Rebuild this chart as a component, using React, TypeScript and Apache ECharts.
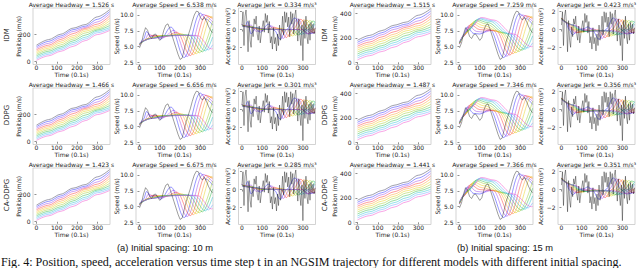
import React, { useEffect, useRef } from "react";
import * as echarts from "echarts";

// ---------------- data ----------------
const timeTicks = [0, 100, 200, 300];
const posTicksA = [0, 200];
const posTicksB = [0, 200, 400];
const speedTicks = [2.5, 5, 7.5, 10];
const accTicks = [-2, 0, 2];

const models = ["IDM", "DDPG", "CA-DDPG"];
const headwayA = ["1.526", "1.466", "1.423"];
const avgSpeedA = ["6.538", "6.656", "6.675"];
const jerkA = ["0.334", "0.301", "0.285"];
const headwayB = ["1.515", "1.487", "1.441"];
const avgSpeedB = ["7.259", "7.346", "7.366"];
const jerkB = ["0.423", "0.356", "0.351"];

// leader (NGSIM) speed, every 10 time steps from 0 to 360
const leaderSpeed = [4.8, 5.6, 7.0, 8.0, 7.6, 6.6, 6.3, 6.9, 7.0, 6.5, 6.0, 6.4, 7.6, 8.4, 8.6, 7.8, 6.8, 5.8, 4.8, 3.8, 3.0, 3.2, 4.5, 5.8, 6.8, 7.8, 9.0, 10.0, 10.6, 10.5, 9.6, 9.2, 9.6, 9.0, 8.2, 7.6, 7.2];
// leader acceleration, every 5 time steps from 0 to 360
const leaderAcc = [0.5, 2.0, -1.8, 1.5, 2.2, 0.5, -2.5, 1.0, -1.2, -2.0, 0.3, -0.8, 1.2, 0.6, 1.5, -0.5, -1.2, 0.4, -1.5, -0.6, 0.3, 1.0, -0.3, 1.8, 0.8, 1.6, -0.4, 0.9, -1.5, -0.8, -2.2, 0.2, -1.6, -0.9, -2.4, -0.5, -1.8, 0.5, -1.2, -0.3, 1.5, -0.6, 2.0, 0.8, 1.9, 0.3, 1.4, -0.8, 2.0, 0.6, 1.8, -0.5, 1.6, 2.2, 0.4, -1.3, 1.2, -0.6, -1.8, 0.5, -3.5, 1.0, -1.0, 1.5, -0.8, -1.6, 0.6, -1.2, 0.8, -0.4, 0.6, -0.5, 0.2];

const posTimes = [0, 60, 120, 180, 240, 300, 360];
// row 0 = leader, rows 1..10 = followers
const positionsA = [
  [120, 160.4, 200.1, 243.7, 269.8, 325.9, 377.9],
  [109, 147.6, 187.3, 232.5, 258.2, 307.9, 363.8],
  [98, 133.5, 175.2, 219.3, 249, 289.5, 348.5],
  [87, 120.1, 162.2, 204.1, 241.5, 273.1, 331.8],
  [76, 109, 149.4, 189.1, 232.7, 258.8, 314.9],
  [65, 98, 136.6, 176.3, 221.5, 247.2, 296.9],
  [54, 87, 122.5, 164.2, 208.3, 238, 278.5],
  [43, 76, 109.1, 151.2, 193.1, 230.5, 262.1],
  [32, 65, 98, 138.4, 178.1, 221.7, 247.8],
  [21, 54, 87, 125.6, 165.3, 210.5, 236.2],
  [10, 43, 76, 111.5, 153.2, 197.3, 227],
];
const positionsB = [
  [180, 220.4, 260.1, 303.7, 329.8, 385.9, 437.9],
  [164, 202.9, 242.6, 287.8, 313.5, 363.2, 419.1],
  [148, 184.1, 225.8, 269.9, 299.6, 340.1, 399.1],
  [132, 166, 208.1, 250, 287.4, 319, 377.7],
  [116, 150.2, 190.6, 230.3, 273.9, 300, 356.1],
  [100, 134.2, 173.1, 212.8, 258, 283.7, 333.4],
  [84, 118.2, 154.3, 196, 240.1, 269.8, 310.3],
  [68, 102.2, 136.2, 178.3, 220.2, 257.6, 289.2],
  [52, 86.2, 120.4, 160.8, 200.5, 244.1, 270.2],
  [36, 70.2, 104.4, 143.3, 183, 228.2, 253.9],
  [20, 54.2, 88.4, 124.5, 166.2, 210.3, 240],
];

// follower speeds, [time step, m/s] read at turning points
const speedFollowA = [
  [[0, 5.2], [20, 6.2], [35, 7.4], [55, 6.6], [80, 6.8], [105, 6.2], [155, 8.1], [220, 3.3], [299, 10.3], [330, 9.3], [360, 8.4]],
  [[0, 5.3], [25, 6.0], [45, 7.0], [70, 6.6], [115, 6.4], [170, 7.6], [235, 3.45], [313, 10.1], [360, 8.9]],
  [[0, 5.3], [30, 6.0], [60, 6.8], [125, 6.6], [185, 7.3], [250, 3.6], [327, 9.95], [360, 9.4]],
  [[0, 5.4], [40, 6.2], [80, 6.7], [140, 6.7], [200, 7.1], [265, 3.75], [341, 9.8], [360, 9.6]],
  [[0, 5.4], [45, 6.3], [100, 6.7], [160, 6.8], [212, 7.0], [280, 3.9], [355, 9.7], [360, 9.7]],
  [[0, 5.4], [50, 6.3], [110, 6.7], [170, 6.8], [226, 6.9], [295, 4.05], [360, 9.0]],
  [[0, 5.5], [55, 6.3], [120, 6.7], [180, 6.8], [241, 6.85], [310, 4.2], [360, 7.8]],
  [[0, 5.5], [60, 6.3], [130, 6.7], [190, 6.8], [256, 6.8], [325, 4.35], [360, 6.5]],
  [[0, 5.5], [60, 6.3], [140, 6.7], [200, 6.8], [271, 6.8], [340, 4.5], [360, 5.3]],
  [[0, 5.6], [60, 6.3], [150, 6.7], [210, 6.8], [286, 6.75], [355, 4.65], [360, 4.7]],
];
const speedFollowB = [
  [[0, 5.4], [15, 6.5], [38, 8.1], [70, 7.1], [100, 7.0], [150, 7.7], [218, 3.3], [295, 10.2], [330, 9.4], [360, 8.5]],
  [[0, 5.5], [20, 6.6], [46, 8.3], [85, 7.4], [120, 7.3], [165, 7.6], [233, 3.5], [310, 10.0], [360, 9.0]],
  [[0, 5.5], [25, 6.8], [54, 8.5], [100, 7.7], [180, 7.5], [248, 3.7], [325, 9.9], [360, 9.4]],
  [[0, 5.5], [30, 7.0], [62, 8.7], [110, 8.0], [190, 7.4], [263, 3.9], [340, 9.8], [360, 9.6]],
  [[0, 5.6], [35, 7.2], [70, 8.9], [120, 8.3], [200, 7.3], [278, 4.05], [355, 9.7], [360, 9.7]],
  [[0, 5.6], [40, 7.4], [78, 9.1], [130, 8.6], [210, 7.2], [293, 4.25], [360, 9.0]],
  [[0, 5.6], [45, 7.6], [86, 9.25], [140, 8.8], [220, 7.2], [308, 4.45], [360, 7.9]],
  [[0, 5.7], [50, 7.8], [94, 9.4], [150, 9.0], [235, 7.1], [323, 4.6], [360, 6.7]],
  [[0, 5.7], [55, 8.0], [102, 9.5], [160, 9.1], [250, 7.0], [338, 4.8], [360, 5.6]],
  [[0, 5.8], [60, 8.2], [110, 9.6], [170, 9.2], [265, 7.0], [355, 5.0], [360, 5.05]],
];

// follower accelerations, [time step, m/s²]
const accFollowA = [
  [[0, 0.6], [15, 0.3], [28, 0.9], [45, -0.5], [65, 0.1], [90, -0.3], [130, 0.6], [160, -0.1], [188, -1.1], [220, 0], [260, 1.3], [299, 0], [325, -0.5], [360, -0.3]],
  [[0, 0.5], [25, 0.4], [45, 0.5], [70, -0.2], [100, -0.1], [145, 0.4], [172, 0], [203, -1.0], [235, 0], [275, 1.2], [313, 0], [340, -0.4], [360, -0.3]],
  [[0, 0.5], [35, 0.35], [70, 0.1], [120, 0], [160, 0.25], [190, 0], [218, -0.9], [250, 0], [290, 1.15], [327, 0], [350, -0.3], [360, -0.3]],
  [[0, 0.5], [40, 0.3], [80, 0.05], [140, 0], [175, 0.15], [205, 0], [233, -0.8], [265, 0], [305, 1.1], [341, 0], [360, -0.2]],
  [[0, 0.45], [45, 0.3], [90, 0.05], [160, 0], [190, 0.1], [220, 0], [248, -0.72], [280, 0], [320, 1.05], [355, 0], [360, -0.05]],
  [[0, 0.45], [50, 0.25], [100, 0.03], [180, 0], [235, 0], [263, -0.65], [295, 0], [335, 1.0], [360, 0.5]],
  [[0, 0.45], [55, 0.25], [110, 0.03], [190, 0], [250, 0], [278, -0.6], [310, 0], [350, 0.95], [360, 0.85]],
  [[0, 0.4], [60, 0.25], [120, 0.02], [200, 0], [265, 0], [293, -0.55], [325, 0], [360, 0.85]],
  [[0, 0.4], [60, 0.2], [130, 0.02], [210, 0], [280, 0], [308, -0.5], [340, 0], [360, 0.6]],
  [[0, 0.4], [60, 0.2], [140, 0.02], [220, 0], [295, 0], [323, -0.45], [355, 0], [360, 0.15]],
];
const accFollowB = [
  [[0, 1.3], [20, 0.9], [38, 0], [55, -0.6], [80, -0.1], [110, 0.1], [130, 0.3], [150, 0], [185, -1.1], [218, 0], [255, 1.3], [295, 0], [320, -0.5], [360, -0.3]],
  [[0, 1.3], [25, 0.8], [46, 0], [65, -0.4], [100, -0.15], [125, 0], [145, 0.15], [165, 0], [200, -1.0], [233, 0], [270, 1.2], [310, 0], [335, -0.4], [360, -0.3]],
  [[0, 1.3], [30, 0.7], [54, 0], [75, -0.35], [120, -0.1], [180, -0.05], [215, -0.9], [248, 0], [285, 1.15], [325, 0], [350, -0.3], [360, -0.3]],
  [[0, 1.25], [35, 0.7], [62, 0], [85, -0.3], [130, -0.1], [190, -0.1], [230, -0.8], [263, 0], [300, 1.1], [340, 0], [360, -0.2]],
  [[0, 1.25], [40, 0.65], [70, 0], [95, -0.3], [140, -0.12], [200, -0.12], [245, -0.72], [278, 0], [315, 1.05], [355, 0], [360, -0.05]],
  [[0, 1.2], [45, 0.6], [78, 0], [105, -0.25], [150, -0.12], [210, -0.12], [260, -0.65], [293, 0], [330, 1.0], [360, 0.5]],
  [[0, 1.2], [50, 0.55], [86, 0], [115, -0.22], [160, -0.15], [220, -0.12], [275, -0.6], [308, 0], [345, 0.95], [360, 0.85]],
  [[0, 1.15], [55, 0.5], [94, 0], [120, -0.2], [170, -0.15], [235, -0.12], [290, -0.55], [323, 0], [360, 0.85]],
  [[0, 1.1], [60, 0.5], [102, 0], [130, -0.2], [180, -0.15], [250, -0.15], [305, -0.5], [338, 0], [360, 0.6]],
  [[0, 1.1], [65, 0.45], [110, 0], [140, -0.2], [190, -0.15], [265, -0.15], [320, -0.45], [355, 0], [360, 0.15]],
];

// ---------------- styling / layout ----------------
const followerColors = [
  "rgba(40,40,255,0.7)",
  "rgba(150,50,230,0.65)",
  "rgba(255,40,40,0.65)",
  "rgba(255,150,30,0.65)",
  "rgba(230,205,0,0.65)",
  "rgba(150,200,30,0.65)",
  "rgba(30,180,60,0.65)",
  "rgba(20,190,200,0.65)",
  "rgba(90,160,255,0.65)",
  "rgba(240,60,200,0.65)",
];
const leaderColor = "rgba(20,20,20,0.7)";
const colLeft = [
  [33, 136, 238.5],
  [354, 456, 558],
];
const yNameX = [
  [18.3, 116.7, 227.5],
  [334, 437.3, 540],
];
const rowLabelX = [7.3, 325];
const plotW = 77;
const plotH = 56.5;
const rowTop0 = 8;
const rowStep = 80;
const SANS = "DejaVu Sans";

function txt(text: string, x: number, y: number, size: number, family = SANS, rot = 0, color = "#222") {
  return {
    type: "text",
    x,
    y,
    rotation: rot,
    silent: true,
    style: {
      text,
      x: 0,
      y: 0,
      fill: color,
      fontSize: size,
      fontFamily: family,
      align: "center",
      verticalAlign: "middle",
      textAlign: "center",
      textVerticalAlign: "middle",
    },
  };
}

function mkAxis(gi: number, dim: "x" | "y", min: number, max: number, ticks: number[], fmt: (v: number) => string) {
  return {
    type: "value",
    gridIndex: gi,
    min,
    max,
    axisLine: { show: false },
    axisTick: { show: true, length: 2, lineStyle: { color: "#444", width: 0.6 }, customValues: ticks },
    axisLabel: {
      customValues: ticks,
      fontSize: 6,
      fontFamily: SANS,
      color: "#222",
      margin: dim === "x" ? 0 : 2.5,
      lineHeight: 6,
      formatter: (v: number) => fmt(v),
    },
    splitLine: { show: false },
  };
}

function buildOption() {
  const grid: any[] = [];
  const xAxis: any[] = [];
  const yAxis: any[] = [];
  const series: any[] = [];
  const graphic: any[] = [];

  const panels = [
    { pos: positionsA, spd: speedFollowA, acc: accFollowA, posTicks: posTicksA, posRange: [-20, 390], hw: headwayA, sp: avgSpeedA, jk: jerkA },
    { pos: positionsB, spd: speedFollowB, acc: accFollowB, posTicks: posTicksB, posRange: [-18, 445], hw: headwayB, sp: avgSpeedB, jk: jerkB },
  ];

  const lineBase = { type: "line", showSymbol: false, silent: true, clip: true };

  panels.forEach((P, p) => {
    for (let r = 0; r < 3; r++) {
      const top = rowTop0 + rowStep * r;
      graphic.push(txt(models[r], rowLabelX[p], top + 27, 7, SANS, Math.PI / 2));
      for (let c = 0; c < 3; c++) {
        const gi = grid.length;
        const left = colLeft[p][c];
        grid.push({ left, top, width: plotW, height: plotH, show: true, borderColor: "#c8c8c8", borderWidth: 0.8, backgroundColor: "rgba(0,0,0,0)" });
        xAxis.push(mkAxis(gi, "x", -17, 362, timeTicks, (v) => String(v)));
        const titleY = top - 4;
        const cx = left + plotW / 2;
        graphic.push(txt("Time (0.1s)", cx, top + 66.6, 6));
        if (c === 0) {
          yAxis.push(mkAxis(gi, "y", P.posRange[0], P.posRange[1], P.posTicks, (v) => String(v)));
          graphic.push(txt(`Average Headway = ${P.hw[r]} s`, cx, titleY, 6));
          graphic.push(txt("Position (m/s)", yNameX[p][c], top + 28.3, 6, SANS, Math.PI / 2));
          P.pos.forEach((row, k) => {
            series.push({
              ...lineBase,
              xAxisIndex: gi,
              yAxisIndex: gi,
              smooth: 0.3,
              smoothMonotone: "x",
              data: row.map((v, i) => [posTimes[i], v]),
              lineStyle: { width: 0.7, color: k === 0 ? "rgba(60,60,90,0.7)" : followerColors[k - 1] },
              z: k === 0 ? 3 : 2,
            });
          });
        } else if (c === 1) {
          yAxis.push(mkAxis(gi, "y", 2.2, 11.1, speedTicks, (v) => v.toFixed(1)));
          graphic.push(txt(`Average Speed = ${P.sp[r]} m/s`, cx, titleY, 6));
          graphic.push(txt("Speed (m/s)", yNameX[p][c], top + 28.3, 6, SANS, Math.PI / 2));
          P.spd.forEach((pts, k) => {
            series.push({
              ...lineBase,
              xAxisIndex: gi,
              yAxisIndex: gi,
              smooth: 0.35,
              smoothMonotone: "x",
              data: pts,
              lineStyle: { width: 0.7, color: followerColors[k] },
              z: 2,
            });
          });
          series.push({
            ...lineBase,
            xAxisIndex: gi,
            yAxisIndex: gi,
            data: leaderSpeed.map((v, i) => [i * 10, v]),
            lineStyle: { width: 0.6, color: leaderColor },
            z: 3,
          });
        } else {
          yAxis.push(mkAxis(gi, "y", -3.93, 2.42, accTicks, (v) => (v < 0 ? "\u2212" + Math.abs(v) : String(v))));
          graphic.push(txt(`Average Jerk = ${P.jk[r]} m/s\u00B3`, cx, titleY, 6));
          graphic.push(txt("Acceleration (m/s\u00B2)", yNameX[p][c], top + 28.3, 6, SANS, Math.PI / 2));
          P.acc.forEach((pts, k) => {
            series.push({
              ...lineBase,
              xAxisIndex: gi,
              yAxisIndex: gi,
              smooth: 0.35,
              smoothMonotone: "x",
              data: pts,
              lineStyle: { width: 0.7, color: followerColors[k] },
              z: 2,
            });
          });
          series.push({
            ...lineBase,
            xAxisIndex: gi,
            yAxisIndex: gi,
            data: leaderAcc.map((v, i) => [i * 5, v]),
            lineStyle: { width: 0.6, color: leaderColor },
            z: 3,
          });
        }
      }
    }
  });

  graphic.push(txt("(a) Initial spacing: 10 m", 165, 248.3, 9.3, "Liberation Sans", 0, "#111"));
  graphic.push(txt("(b) Initial spacing: 15 m", 505, 248.3, 9.3, "Liberation Sans", 0, "#111"));
  graphic.push({
    type: "text",
    x: 1,
    y: 261.8,
    silent: true,
    style: {
      text: "Fig. 4: Position, speed, acceleration versus time step t in an NGSIM trajectory for different models with different initial spacing.",
      x: 0,
      y: 0,
      fill: "#111",
      fontSize: 12.1,
      fontFamily: "Liberation Serif",
      align: "left",
      verticalAlign: "middle",
      textAlign: "left",
      textVerticalAlign: "middle",
    },
  });

  return {
    animation: false,
    backgroundColor: "#ffffff",
    grid,
    xAxis,
    yAxis,
    series,
    graphic,
  };
}

export default function App() {
  const ref = useRef<HTMLDivElement>(null);
  useEffect(() => {
    if (!ref.current) return;
    const chart = echarts.init(ref.current, null, { renderer: "svg", width: 640, height: 268 });
    chart.setOption(buildOption() as any);
    return () => chart.dispose();
  }, []);
  return <div ref={ref} style={{ position: "fixed", left: 0, top: 0, width: 640, height: 268, background: "#fff" }} />;
}
